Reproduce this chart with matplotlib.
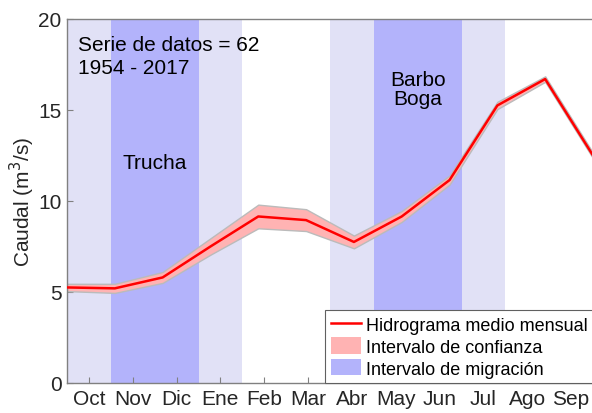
import numpy as np
import matplotlib
matplotlib.use("Agg")
import matplotlib.pyplot as plt
from matplotlib.patches import Patch
from matplotlib.lines import Line2D

plt.rcParams['font.family'] = ['Liberation Sans', 'DejaVu Sans']

# hidrograma medio mensual (año hidrologico Oct-Sep)
meses = ['Oct', 'Nov', 'Dic', 'Ene', 'Feb', 'Mar', 'Abr', 'May', 'Jun', 'Jul', 'Ago', 'Sep']
caudal = [5.25, 5.2, 5.8, 7.5, 9.15, 8.95, 7.75, 9.15, 11.15, 15.25, 16.7, 12.5]
ic = [0.2, 0.25, 0.3, 0.45, 0.65, 0.6, 0.35, 0.3, 0.25, 0.2, 0.15, 0.15]

# periodos de migracion, en indices de mes (0 = Oct)
trucha_borde = [(0, 1), (3, 4)]
trucha_pico = (1, 3)
barbo_borde = [(6, 7), (9, 10)]
barbo_pico = (7, 9)

n = len(meses)
x = np.arange(1, n + 1)
paso = (n - 1) / n          # ancho de cada mes en el eje
def mx(k):
    return 1 + k * paso

c_borde = '#E1E1F6'
c_pico = '#B3B3FB'
c_ic = '#FFB3B3'

fig = plt.figure(figsize=(5.92, 4.14), dpi=100)
ax = fig.add_axes([67/592, 30/414, 526/592, 364/414])

for a, b in trucha_borde + barbo_borde:
    ax.axvspan(mx(a), mx(b), color=c_borde, lw=0, zorder=0)
for a, b in [trucha_pico, barbo_pico]:
    ax.axvspan(mx(a), mx(b), color=c_pico, lw=0, zorder=0)

q = np.array(caudal)
e = np.array(ic)
ax.fill_between(x, q - e, q + e, facecolor=c_ic, edgecolor='#BBBBBB', lw=1, zorder=2)
ax.plot(x, q, color='red', lw=1.8, zorder=3)

ax.set_xlim(1, 12)
ax.set_ylim(0, 20)
ax.set_xticks(1 + (np.arange(n) + 0.5) * paso)
ax.set_xticklabels(meses)
ax.set_yticks([0, 5, 10, 15, 20])
ax.tick_params(direction='in', length=4, width=0.8, colors='#808080',
               labelcolor='#262626', labelsize=15, pad=4)
ax.set_ylabel('Caudal (m$^3$/s)', fontsize=15, color='#262626', labelpad=1)

for s in ['left', 'bottom', 'top']:
    ax.spines[s].set_color('#808080')
    ax.spines[s].set_linewidth(1)
ax.spines['right'].set_visible(False)

ax.text(0.02, 0.931, 'Serie de datos = 62', transform=ax.transAxes,
        fontsize=15, va='center')
ax.text(0.02, 0.868, '1954 - 2017', transform=ax.transAxes,
        fontsize=15, va='center')
ax.text(mx(2), 0.607, 'Trucha', transform=ax.get_xaxis_transform(),
        fontsize=15, ha='center', va='center')
ax.text(mx(8), 0.808, 'Barbo\nBoga', transform=ax.get_xaxis_transform(),
        fontsize=15, ha='center', va='center', linespacing=1.05)

handles = [Line2D([], [], color='red', lw=1.8),
           Patch(facecolor=c_ic, edgecolor='none'),
           Patch(facecolor=c_pico, edgecolor='none')]
labels = ['Hidrograma medio mensual', 'Intervalo de confianza', 'Intervalo de migración']
leg = ax.legend(handles, labels, loc='lower right', bbox_to_anchor=(1.0, 0.0),
                borderaxespad=0, fancybox=False, fontsize=13, framealpha=1,
                handlelength=1.7, handleheight=1.0, handletextpad=0.25,
                labelspacing=0.2, borderpad=0.3)
leg.get_frame().set_edgecolor('#606060')
leg.get_frame().set_linewidth(0.8)
leg.set_zorder(5)

fig.savefig('out.png', dpi=100)
